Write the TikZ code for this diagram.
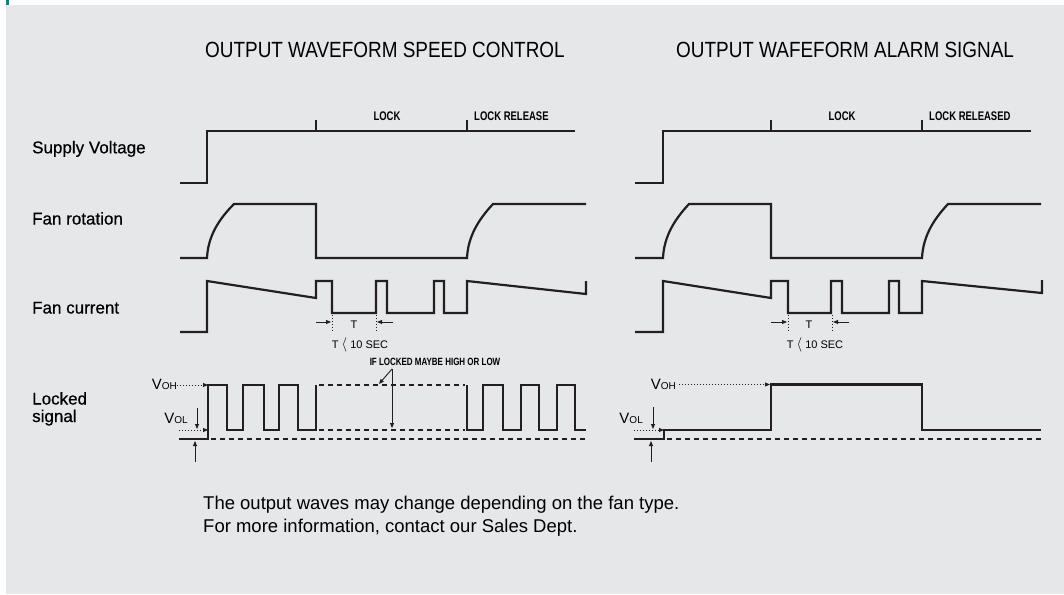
\documentclass[tikz,border=0pt]{standalone}
\usepackage{fontspec}
\setmainfont{Liberation Sans}
\newfontfamily\titlefont{Liberation Sans}[FakeStretch=0.86]
\newfontfamily\condfont{Liberation Sans}[FakeStretch=0.76]
\newfontfamily\labelfont{Liberation Sans}[FakeBold=0.6]
\usetikzlibrary{arrows.meta, positioning}

\definecolor{panelgray}{HTML}{E6E7E8}
\definecolor{ink}{HTML}{231F20}
\definecolor{brandteal}{HTML}{00857D}

% level label: big V, small suffix on the same baseline
\newcommand{\vlevel}[1]{{\fontsize{15}{15}\selectfont V}{\fontsize{10}{10}\selectfont #1}}
% thin chevron of the period limit
\newcommand{\shorter}{{\fontsize{14}{14}\selectfont$\langle$}}

\begin{document}
\begin{tikzpicture}[
    x=1pt, y=-1pt,
    font=\fontsize{17}{18}\selectfont,
    wave/.style={draw=ink, line width=2.2pt},
    levdash/.style={draw=ink, line width=2pt, dash pattern=on 5pt off 4pt},
    dimarrow/.style={draw=ink, line width=0.9pt, -{Triangle[length=5pt, width=4pt]}},
    dotarrow/.style={draw=ink, line width=0.9pt, dash pattern=on 1.3pt off 1.7pt, -{Triangle[length=5pt, width=4pt]}},
    dotline/.style={draw=ink, line width=0.9pt, dash pattern=on 1.3pt off 1.7pt},
    sigtitle/.style={font=\titlefont\fontsize{22}{22}\selectfont, anchor=west, inner sep=0pt},
    rowlabel/.style={font=\labelfont\fontsize{17}{18}\selectfont, anchor=base west, inner sep=0pt},
    phase/.style={font=\condfont\bfseries\fontsize{12.5}{12.5}\selectfont, inner sep=0pt},
    hint/.style={font=\condfont\bfseries\fontsize{10.5}{10.5}\selectfont, inner sep=0pt},
    note/.style={font=\fontsize{11}{11}\selectfont, inner sep=0pt},
    vlabel/.style={anchor=base east, inner sep=0pt},
    remark/.style={font=\fontsize{18.5}{18.5}\selectfont, anchor=base west, inner sep=0pt}
]
\useasboundingbox (0,0) rectangle (1064,594);
\fill[white] (0,0) rectangle (1064,594);
\fill[panelgray] (6,5) rectangle (1064,594);
\fill[brandteal] (6,0) rectangle (9,5);

% Titles
\node[sigtitle] (speedtitle) at (205,50) {OUTPUT WAVEFORM SPEED CONTROL};
\node[sigtitle] (alarmtitle) at (676,50) {OUTPUT WAFEFORM ALARM SIGNAL};

% Row labels
\node[rowlabel] (supply) at (32,153.3) {Supply Voltage};
\node[rowlabel] (rotation) at (32,224.5) {Fan rotation};
\node[rowlabel] (current) at (32,313.5) {Fan current};
\node[rowlabel] (locked) at (32,404.5) {Locked};
\node[rowlabel] (signal) at (32,422) {signal};

%% Speed control panel
% Supply voltage
\coordinate (lockA) at (316,120);
\coordinate (relA) at (467,120);
\draw[wave] (180,183) -- (207,183) -- (207,131) -- (575,131);
\draw[wave] (lockA) -- (316,131);
\draw[wave] (relA) -- (467,131);
\node[phase, anchor=base] (lockAtxt) at (387,120) {LOCK};
\node[phase, right=7pt of relA, anchor=base west] (relAtxt) {LOCK RELEASE};

% Fan rotation
\draw[wave] (180,258) -- (207,258) .. controls (208,236) and (219,219) .. (234,204) -- (316,204) -- (316,258)
    -- (467,258) .. controls (468,236) and (479,219) .. (493,204) -- (586,204);

% Fan current
\draw[wave] (180,332) -- (207,332) -- (207,281) -- (316,298) -- (316,281) -- (332,281) -- (332,313)
    -- (376,313) -- (376,281) -- (387,281) -- (387,313) -- (434,313) -- (434,281) -- (444,281)
    -- (444,313) -- (467,313) -- (467,281) -- (586,294) -- (586,281);
\draw[dotline] (332,315) -- (332,331);
\draw[dotline] (376,315) -- (376,331);
\draw[dimarrow] (316,322) -- (331,322);
\draw[dimarrow] (393,322) -- (377,322);
\node[note] (periodA) at (354,325) {T};
\node[note, anchor=base] (limitA) at (360,348) {T \shorter\ 10 SEC};

% Locked signal
\coordinate (ohA) at (208,385);
\coordinate (olA) at (208,430);
\draw[wave] (179,439) -- (208,439) -- (ohA) -- (227,385) -- (227,430) -- (243,430) -- (243,385)
    -- (264,385) -- (264,430) -- (279,430) -- (279,385) -- (298,385) -- (298,430) -- (316,430) -- (316,385);
\draw[levdash] (319,385) -- (465,385);
\draw[levdash] (319,430) -- (465,430);
\draw[wave] (467,385) -- (467,430) -- (483,430) -- (483,385) -- (503,385) -- (503,430) -- (521,430)
    -- (521,385) -- (539,385) -- (539,430) -- (557,430) -- (557,385) -- (575,385) -- (575,430) -- (586,430);
\draw[levdash] (211,439) -- (586,439);
\node[vlabel] (vohA) at (177,389.5) {\vlevel{OH}};
\node[vlabel] (volA) at (188,423.5) {\vlevel{OL}};
\draw[dotarrow] (vohA.east |- ohA) -- (ohA);
\draw[dotarrow] (179,430) -- (olA);
\draw[dimarrow] (197,408) -- (197,429);
\draw[dimarrow] (195,462) -- (195,441);
\node[hint] (maybe) at (435,362) {IF LOCKED MAYBE HIGH OR LOW};
\coordinate (fork) at (392,369);
\draw[dimarrow] (fork) -- (379,384);
\draw[dimarrow] (fork) -- (392,428);

%% Alarm signal panel
% Supply voltage
\coordinate (lockB) at (771,120);
\coordinate (relB) at (922,120);
\draw[wave] (635,183) -- (663,183) -- (663,131) -- (1031,131);
\draw[wave] (lockB) -- (771,131);
\draw[wave] (relB) -- (922,131);
\node[phase, anchor=base] (lockBtxt) at (842,120) {LOCK};
\node[phase, right=7pt of relB, anchor=base west] (relBtxt) {LOCK RELEASED};

% Fan rotation
\draw[wave] (635,258) -- (663,258) .. controls (664,236) and (675,219) .. (689,204) -- (771,204) -- (771,258)
    -- (922,258) .. controls (923,236) and (934,219) .. (948,204) -- (1041,204);

% Fan current
\draw[wave] (635,332) -- (663,332) -- (663,281) -- (771,298) -- (771,281) -- (788,281) -- (788,313)
    -- (831,313) -- (831,281) -- (842,281) -- (842,313) -- (889,313) -- (889,281) -- (899,281)
    -- (899,313) -- (922,313) -- (922,281) -- (1042,293) -- (1042,280);
\draw[dotline] (788,315) -- (788,331);
\draw[dotline] (832,315) -- (832,331);
\draw[dimarrow] (771,322) -- (787,322);
\draw[dimarrow] (849,322) -- (833,322);
\node[note] (periodB) at (809,325) {T};
\node[note, anchor=base] (limitB) at (815,348) {T \shorter\ 10 SEC};

% Locked signal
\coordinate (ohB) at (770,384.5);
\coordinate (olB) at (664,430);
\draw[wave] (634,439) -- (664,439) -- (olB) -- (771,430) -- (771,384.5) -- (922,384.5) -- (922,430) -- (1041,430);
\draw[levdash] (667,439) -- (1041,439);
\node[vlabel] (vohB) at (676,389.5) {\vlevel{OH}};
\node[vlabel] (volB) at (643,423.5) {\vlevel{OL}};
\draw[dotarrow] ([xshift=3pt]vohB.east |- ohB) -- (ohB);
\draw[dotarrow] (634,430) -- (olB);
\draw[dimarrow] (653,407) -- (653,429);
\draw[dimarrow] (651,462) -- (651,441);

% Footer
\node[remark] (note1) at (203,509) {The output waves may change depending on the fan type.};
\node[remark] (note2) at (203,532) {For more information, contact our Sales Dept.};
\end{tikzpicture}
\end{document}
